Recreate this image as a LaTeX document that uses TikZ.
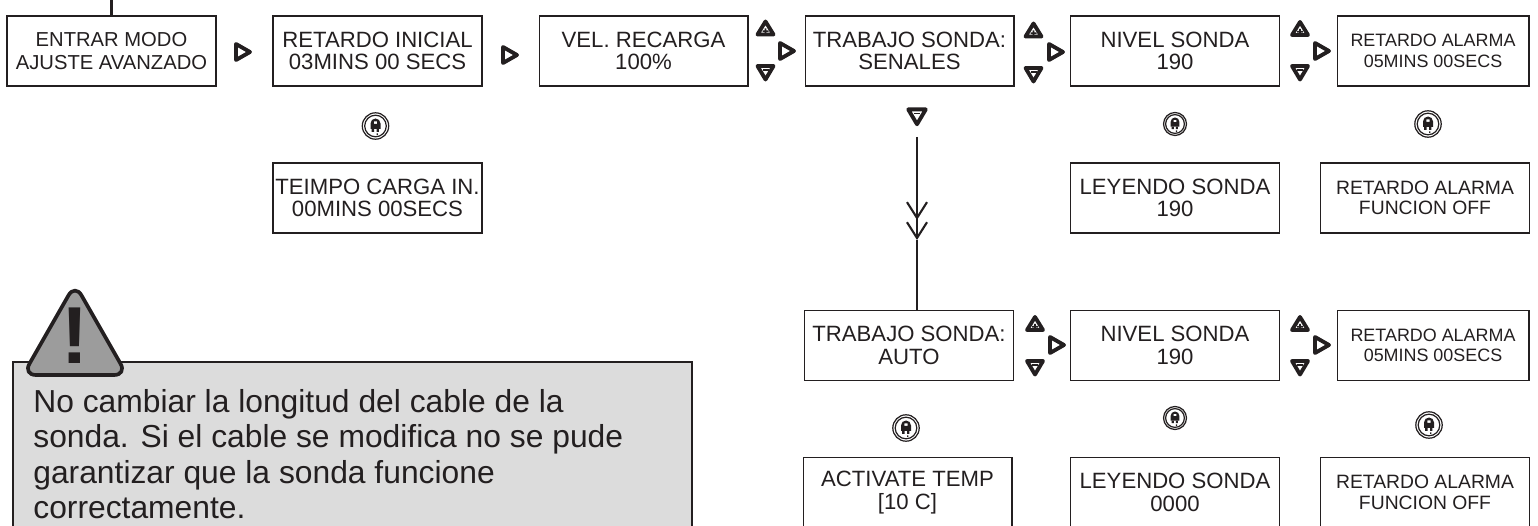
\documentclass[tikz,border=0pt]{standalone}
\usepackage{fontspec}
\usepackage{xcolor}
\usetikzlibrary{positioning, arrows.meta}
\setmainfont{Liberation Sans}
\definecolor{inkdark}{HTML}{231F20}
\definecolor{panelgray}{HTML}{DCDCDC}
\definecolor{signgray}{HTML}{9C9C9C}
\tikzset{
    lcd/.style={draw=inkdark, line width=0.6pt, fill=white, text=inkdark, align=center, inner sep=0pt,
        minimum height=1.4cm, minimum width=4.18cm, font=\fontsize{12.6}{12.8}\selectfont},
    lcdfirst/.style={lcd, font=\fontsize{11.5}{12.8}\selectfont},
    lcdnarrow/.style={lcd, minimum width=3.84cm, font=\fontsize{10.2}{11.6}\selectfont},
    lcdoff/.style={lcd, font=\fontsize{11}{11.6}\selectfont},
    icon/.style={draw=inkdark, line width=2.2pt, line join=round},
    flow/.style={draw=inkdark, line width=1.2pt},
    keyright/.pic={\draw[icon] (-7,-8) -- (7,0) -- (-7,8) -- cycle;},
    keyup/.pic={\draw[icon] (0,-7) -- (8,6) -- (-8,6) -- cycle;
        \fill[inkdark] (-3,2) rectangle (3,3.6) (-0.8,0) rectangle (0.8,5);},
    keydown/.pic={\draw[icon] (0,7.5) -- (8,-6) -- (-8,-6) -- cycle;
        \fill[inkdark] (-3,-3) rectangle (3,-1.4);},
    keyenter/.pic={\draw[inkdark, line width=0.7pt] (0,0) circle (13.2) (0,0) circle (10.8);
        \fill[inkdark, even odd rule] (-5,3) -- (-5,-2.5) arc (180:360:5) -- (5,3) -- cycle (-1.7,-4.6) rectangle (1.7,-2.2);
        \fill[inkdark] (-4,3) rectangle (-1.4,6) (1,3) rectangle (3.4,6) (1,7.4) rectangle (2.4,9);}
}

\begin{document}
\begin{tikzpicture}[x=0.02cm, y=-0.02cm]
    \useasboundingbox (0,0) rectangle (1538,526);

    \node[lcdfirst] (entrar) at (111.5, 51) {ENTRAR MODO\\AJUSTE AVANZADO};
    \node[lcd] (retardo) at (377.5, 51) {RETARDO INICIAL\\03MINS 00 SECS};
    \node[lcd] (recarga) at (643.5, 51) {VEL. RECARGA\\100\%};
    \node[lcd] (senales) at (909.5, 51) {TRABAJO SONDA:\\SENALES};
    \node[lcd] (nivel) at (1175, 51) {NIVEL SONDA\\190};
    \node[lcdnarrow] (alarma) at (1433, 51) {RETARDO ALARMA\\05MINS 00SECS};

    \node[lcd] (carga) at (377.5, 198) {TEIMPO CARGA IN.\\00MINS 00SECS};
    \node[lcd] (leyendo) at (1175, 198) {LEYENDO SONDA\\190};
    \node[lcdoff] (alarmaoff) at (1425, 198) {RETARDO ALARMA\\FUNCION OFF};

    \node[lcd] (auto) at (909, 345.5) {TRABAJO SONDA:\\AUTO};
    \node[lcd] (nivelauto) at (1175, 345.5) {NIVEL SONDA\\190};
    \node[lcdnarrow] (alarmaauto) at (1433, 345.5) {RETARDO ALARMA\\05MINS 00SECS};

    \node[lcd] (activate) at (907.5, 492.5) {ACTIVATE TEMP\\{[10 C]}};
    \node[lcd] (leyendoauto) at (1175, 492.5) {LEYENDO SONDA\\0000};
    \node[lcdoff] (alarmaoffauto) at (1425, 492.5) {RETARDO ALARMA\\FUNCION OFF};

    \coordinate (entry) at (111.5, 0);
    \coordinate (probetop) at (917, 137);
    \coordinate (probemid) at (917, 240);
    \draw[flow, line width=1.4pt] (entry) -- (entrar.north);
    \draw[flow, -{Straight Barb[length=9pt, width=11.4pt, sep=0.7pt]Straight Barb[length=9pt, width=11.4pt]}] (probetop) -- (probemid);
    \draw[flow] (probemid) -- (probemid |- auto.north);

    \pic at (243, 52) {keyright};
    \pic at (510, 55) {keyright};
    \pic at (787, 51) {keyright};
    \pic at (1056, 52) {keyright};
    \pic at (1322, 51) {keyright};
    \pic at (1057, 345) {keyright};
    \pic at (1322, 345) {keyright};

    \pic at (765.5, 28.5) {keyup};
    \pic at (765.5, 72) {keydown};
    \pic at (1033.5, 30.5) {keyup};
    \pic at (1033.5, 74) {keydown};
    \pic at (1300, 29) {keyup};
    \pic at (1300, 72) {keydown};
    \pic at (1035, 324) {keyup};
    \pic at (1035, 367) {keydown};
    \pic at (1300, 324) {keyup};
    \pic at (1300, 367) {keydown};
    \pic[scale=1.1] at (917, 116) {keydown};

    \pic at (375.5, 126) {keyenter};
    \pic[scale=0.87] at (1175, 124) {keyenter};
    \pic at (1428, 124) {keyenter};
    \pic at (906, 428) {keyenter};
    \pic[scale=0.87] at (1175, 418) {keyenter};
    \pic at (1429, 425) {keyenter};

    \node[draw=inkdark, line width=1.1pt, fill=panelgray, anchor=north west, inner sep=0pt,
        minimum width=13.58cm, minimum height=4cm] (panel) at (12, 361) {};
    \draw[inkdark, line width=2.1pt, line join=round, fill=signgray, rounded corners=0.26cm]
        (75, 284) -- (127, 375) -- (23, 375) -- cycle;
    \node[text=inkdark, font=\bfseries\fontsize{46}{46}\selectfont, inner sep=0pt] (bang) at (74.5, 336) {!};
    \node[text=inkdark, anchor=north west, align=left, inner sep=0pt, font=\fontsize{18.1}{20.1}\selectfont] (warning) at (33, 389)
        {No cambiar la longitud del cable de la\\sonda. Si el cable se modifica no se pude\\garantizar que la sonda funcione\\correctamente.};
\end{tikzpicture}
\end{document}
